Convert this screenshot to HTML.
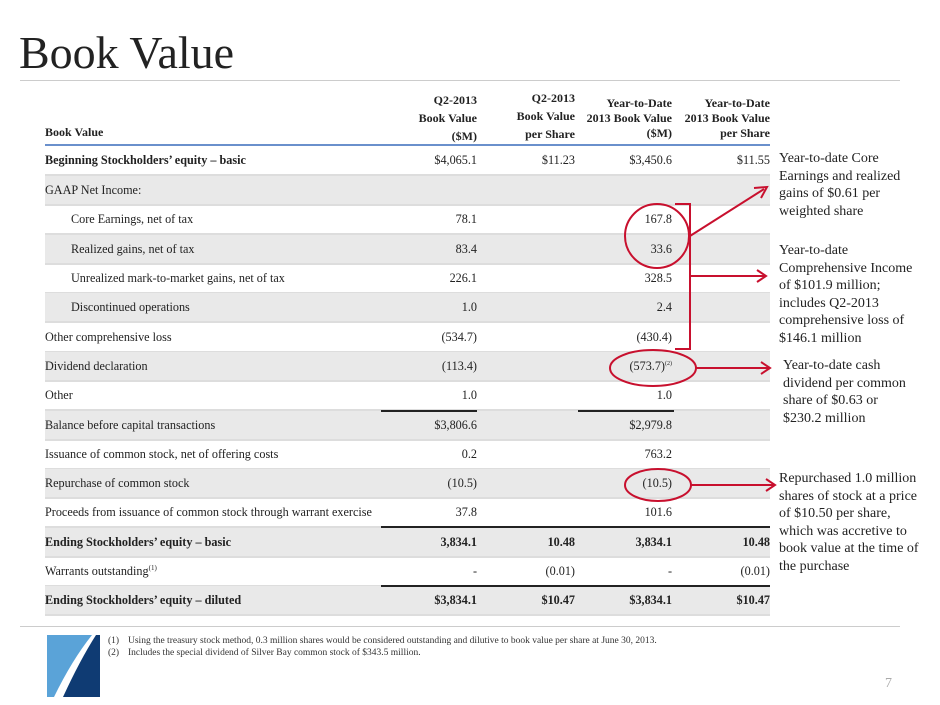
<!DOCTYPE html>
<html><head><meta charset="utf-8"><style>
body{margin:0;width:940px;height:705px;background:#fff;position:relative;overflow:hidden;font-family:"Liberation Serif",serif;color:#222}
.t{position:absolute;left:19px;top:26px;font-size:46px;color:#222}
.hl{position:absolute;height:1px;background:#ccc}
.row{position:absolute;left:45px;width:725px;height:28px;border-bottom:2px solid #ddd;font-size:12.2px}
.row.s{background:#e9e9e9}
.row span{position:absolute;top:7px;white-space:nowrap}
.c1{right:293px}.c2{right:195px}.c3{right:98px}.c4{right:0}
.b{font-weight:bold}
.hd{position:absolute;font-size:12px;font-weight:bold;text-align:right;line-height:18px}
.ann{position:absolute;left:779px;font-size:14px;line-height:17.5px;color:#222}
.ul{position:absolute;height:2px;background:#222}
</style></head><body>
<div class="t">Book Value</div>
<div class="hl" style="left:20px;top:80px;width:880px"></div>
<div class="hd" style="left:45px;top:123px;text-align:left">Book Value</div>
<div class="hd" style="right:463px;top:91px">Q2-2013<br>Book Value<br>($M)</div>
<div class="hd" style="right:365px;top:89px">Q2-2013<br>Book Value<br>per Share</div>
<div class="hd" style="right:268px;top:96px;line-height:15px">Year-to-Date<br>2013 Book Value<br>($M)</div>
<div class="hd" style="right:170px;top:96px;line-height:15px">Year-to-Date<br>2013 Book Value<br>per Share</div>
<div style="position:absolute;left:45px;top:144px;width:725px;height:2px;background:#6a90cc"></div>

<div class="row b" style="top:146px"><span style="left:0">Beginning Stockholders’ equity – basic</span><span class="c1" style="font-weight:normal">$4,065.1</span><span class="c2" style="font-weight:normal">$11.23</span><span class="c3" style="font-weight:normal">$3,450.6</span><span class="c4" style="font-weight:normal">$11.55</span></div>
<div class="row s" style="top:176px"><span style="left:0">GAAP Net Income:</span></div>
<div class="row" style="top:205px"><span style="left:26px">Core Earnings, net of tax</span><span class="c1">78.1</span><span class="c3">167.8</span></div>
<div class="row s" style="top:235px"><span style="left:26px">Realized gains, net of tax</span><span class="c1">83.4</span><span class="c3">33.6</span></div>
<div class="row" style="top:264px"><span style="left:26px">Unrealized mark-to-market gains, net of tax</span><span class="c1">226.1</span><span class="c3">328.5</span></div>
<div class="row s" style="top:293px"><span style="left:26px">Discontinued operations</span><span class="c1">1.0</span><span class="c3">2.4</span></div>
<div class="row" style="top:323px"><span style="left:0">Other comprehensive loss</span><span class="c1">(534.7)</span><span class="c3">(430.4)</span></div>
<div class="row s" style="top:352px"><span style="left:0">Dividend declaration</span><span class="c1">(113.4)</span><span class="c3">(573.7)<sup style="font-size:6px">(2)</sup></span></div>
<div class="row" style="top:381px"><span style="left:0">Other</span><span class="c1">1.0</span><span class="c3">1.0</span></div>
<div class="row s" style="top:411px"><span style="left:0">Balance before capital transactions</span><span class="c1">$3,806.6</span><span class="c3">$2,979.8</span></div>
<div class="row" style="top:440px"><span style="left:0">Issuance of common stock, net of offering costs</span><span class="c1">0.2</span><span class="c3">763.2</span></div>
<div class="row s" style="top:469px"><span style="left:0">Repurchase of common stock</span><span class="c1">(10.5)</span><span class="c3">(10.5)</span></div>
<div class="row" style="top:498px"><span style="left:0">Proceeds from issuance of common stock through warrant exercise</span><span class="c1">37.8</span><span class="c3">101.6</span></div>
<div class="row s b" style="top:528px"><span style="left:0">Ending Stockholders’ equity – basic</span><span class="c1">3,834.1</span><span class="c2">10.48</span><span class="c3">3,834.1</span><span class="c4">10.48</span></div>
<div class="row" style="top:557px"><span style="left:0">Warrants outstanding<sup style="font-size:7px">(1)</sup></span><span class="c1">-</span><span class="c2">(0.01)</span><span class="c3">-</span><span class="c4">(0.01)</span></div>
<div class="row s b" style="top:586px"><span style="left:0">Ending Stockholders’ equity – diluted</span><span class="c1">$3,834.1</span><span class="c2">$10.47</span><span class="c3">$3,834.1</span><span class="c4">$10.47</span></div>

<div class="ul" style="left:381px;width:96px;top:410px"></div>
<div class="ul" style="left:578px;width:96px;top:410px"></div>
<div class="ul" style="left:381px;width:389px;top:526px"></div>
<div class="ul" style="left:381px;width:389px;top:585px"></div>

<div class="ann" style="top:150px">Year-to-date Core<br>Earnings and realized<br>gains of $0.61 per<br>weighted share</div>
<div class="ann" style="top:242px">Year-to-date<br>Comprehensive Income<br>of $101.9 million;<br>includes Q2-2013<br>comprehensive loss of<br>$146.1 million</div>
<div class="ann" style="top:357px;left:783px">Year-to-date cash<br>dividend per common<br>share of $0.63 or<br>$230.2 million</div>
<div class="ann" style="top:470px">Repurchased 1.0 million<br>shares of stock at a price<br>of $10.50 per share,<br>which was accretive to<br>book value at the time of<br>the purchase</div>

<svg style="position:absolute;left:0;top:0" width="940" height="705">
<g stroke="#c8102e" stroke-width="2" fill="none">
<circle cx="657" cy="236" r="32"/>
<polyline points="675,204 690,204 690,349 675,349"/>
<line x1="690" y1="236" x2="764" y2="189"/>
<polyline points="754,188 767,187 761,198"/>
<line x1="690" y1="276" x2="765" y2="276"/>
<polyline points="757,270 766,276 757,282"/>
<ellipse cx="653" cy="368" rx="43" ry="18"/>
<line x1="696" y1="368" x2="769" y2="368"/>
<polyline points="761,362 770,368 761,374"/>
<ellipse cx="658" cy="485" rx="33" ry="16"/>
<line x1="691" y1="485" x2="774" y2="485"/>
<polyline points="766,479 775,485 766,491"/>
</g>
<path d="M47,635 L92,635 Q72,660 54,697 L47,697 Z" fill="#5aa3d8"/>
<path d="M96,635 L100,635 L100,697 L63,697 Q80,660 96,635 Z" fill="#0f3b73"/>
</svg>
<div class="hl" style="left:20px;top:626px;width:880px"></div>
<div style="position:absolute;left:108px;top:636px;font-size:9.5px;line-height:11.5px;color:#333">
<div><span style="display:inline-block;width:20px">(1)</span>Using the treasury stock method, 0.3 million shares would be considered outstanding and dilutive to book value per share at June 30, 2013.</div>
<div><span style="display:inline-block;width:20px">(2)</span>Includes the special dividend of Silver Bay common stock of $343.5 million.</div>
</div>
<div style="position:absolute;left:885px;top:676px;font-size:14px;color:#aaa">7</div>
</body></html>
